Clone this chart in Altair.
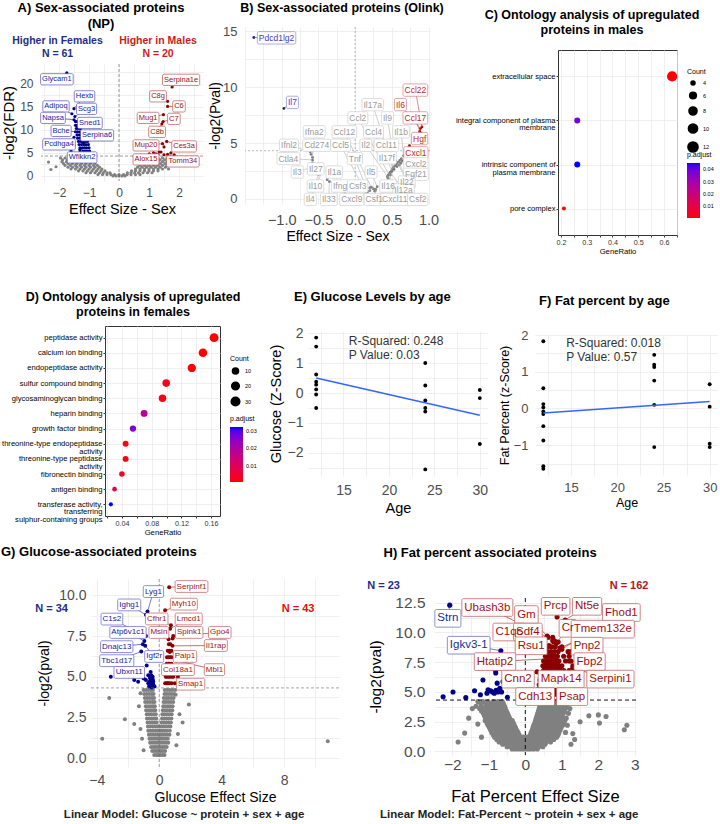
import altair as alt
import pandas as pd

FONT = "Liberation Sans"
BLUE, RED, NS = "#00008B", "#8B0000", "#808080"
NAVY = "#1F2D86"
GRID = "#ebebeb"
TXT = "#4d4d4d"
THR = 4.32  # -log2(0.05)

# ---------------- A) Sex-associated proteins (NP) ----------------
# non-significant proteins, read row by row: (-log2 FDR, [effect sizes])
a_ns_rows = [
    (3.9, [-1.95, -1.8, -1.65, -1.5, -1.35, -1.2, -1.05, 1.0, 1.15, 1.3, 1.45, 1.6, 1.75, 1.9]),
    (3.5, [-1.88, -1.72, -1.57, -1.42, -1.27, -1.12, -0.98, 0.92, 1.07, 1.22, 1.37, 1.52, 1.68, 1.85]),
    (3.1, [-1.9, -1.75, -1.6, -1.45, -1.3, -1.15, -1.0, -0.88, 0.85, 1.0, 1.15, 1.3, 1.45, 1.6, 1.75, 1.95]),
    (2.7, [-1.85, -1.7, -1.55, -1.4, -1.25, -1.1, -0.95, -0.8, 0.78, 0.93, 1.08, 1.23, 1.38, 1.53, 1.7]),
    (2.3, [-1.8, -1.62, -1.45, -1.3, -1.15, -1.0, -0.85, -0.72, 0.7, 0.85, 1.0, 1.15, 1.3, 1.45, 1.6, 1.8]),
    (1.9, [-1.7, -1.55, -1.4, -1.25, -1.1, -0.95, -0.8, -0.65, 0.62, 0.77, 0.92, 1.07, 1.22, 1.37, 1.55]),
    (1.5, [-1.6, -1.45, -1.3, -1.15, -1.0, -0.85, -0.7, -0.57, 0.55, 0.7, 0.85, 1.0, 1.15, 1.3, 1.45, 1.65]),
    (1.1, [-1.35, -1.2, -1.05, -0.9, -0.75, -0.6, -0.47, 0.42, 0.55, 0.7, 0.85, 1.0, 1.15, 1.3]),
    (0.7, [-1.1, -0.95, -0.8, -0.65, -0.52, -0.4, -0.3, 0.28, 0.4, 0.52, 0.65, 0.8, 0.95, 1.1]),
    (0.3, [-0.7, -0.55, -0.4, -0.27, -0.15, 0.0, 0.15, 0.27, 0.4, 0.55, 0.7]),
    (0.0, [-0.2, -0.1, 0.0, 0.1, 0.2]),
]
a_ns_extra = [(-2.35, 3.0), (-2.27, 1.4), (-2.1, 2.0), (2.15, 3.5), (2.05, 2.6)]
a_down_rows = [
    (11.8, [-1.45, -1.4]),
    (11.0, [-1.45, -1.33]),
    (10.3, [-1.42, -1.35, -1.28]),
    (9.6, [-1.38, -1.3, -1.22]),
    (8.9, [-1.4, -1.32, -1.25, -1.18]),
    (8.2, [-1.38, -1.3, -1.22, -1.14]),
    (7.5, [-1.35, -1.27, -1.2, -1.12, -1.05]),
    (6.8, [-1.33, -1.25, -1.17, -1.1, -1.02]),
    (6.1, [-1.3, -1.22, -1.15, -1.08, -1.0]),
    (5.4, [-1.3, -1.2, -1.12, -1.05, -0.98]),
    (4.7, [-1.55, -1.35, -1.25, -1.15, -1.08, -1.0, -0.95]),
]
a_down_extra = [(-1.25, 4.4), (-1.1, 4.5), (-1.3, 5.8), (-1.18, 7.2), (-1.4, 10.8), (-1.5, 8.4)]
a_up_extra = [(1.34, 5.2), (1.5, 6.3), (1.73, 5.0), (1.3, 4.6), (1.01, 4.8),
              (1.5, 4.6), (1.12, 4.4), (1.84, 4.6), (1.4, 5.2), (1.23, 4.8)]
# (protein, direction, effect, -log2FDR, label x, label y)
a_labels = [
    ("Glycam1", "down", -1.74, 22.4, -2.07, 20.98), ("Hexb", "down", -1.5, 14.6, -1.15, 17.28),
    ("Adipoq", "down", -1.57, 13.5, -2.1, 15.1), ("Scg3", "down", -1.47, 12.9, -1.08, 14.57),
    ("Napsa", "down", -1.5, 12.2, -2.2, 12.6), ("Sned1", "down", -1.38, 11.0, -0.97, 11.5),
    ("Bche", "down", -1.45, 9.6, -1.93, 9.78), ("Serpina6", "down", -1.2, 8.0, -0.73, 8.8),
    ("Pcdhga4", "down", -1.5, 6.6, -2.0, 6.85), ("Wfikkn2", "down", -1.6, 5.4, -1.23, 4.02),
    ("Serpina1e", "up", 1.77, 19.3, 2.07, 20.87), ("C8g", "up", 1.62, 16.2, 1.3, 17.28),
    ("C6", "up", 1.62, 15.1, 2.0, 15.1), ("Mug1", "up", 1.48, 13.3, 0.97, 12.6),
    ("C7", "up", 1.47, 11.8, 1.83, 12.39), ("C8b", "up", 1.43, 11.3, 1.27, 9.57),
    ("Mup20", "up", 1.45, 7.0, 0.9, 6.63), ("Ces3a", "up", 1.59, 7.5, 2.17, 6.41),
    ("Alox15", "up", 1.15, 5.0, 0.9, 3.59), ("Tomm34", "up", 1.62, 4.7, 2.13, 3.15),
]

# ---------------- B) Sex-associated proteins (Olink) ----------------
b_ns_extra = [(0.53, 2.65), (0.57, 2.9), (0.6, 3.05), (0.55, 3.4), (0.62, 3.2), (0.48, 2.15),
              (0.5, 2.45), (0.45, 1.85), (0.64, 3.4), (0.2, 1.0), (0.27, 0.7), (-0.55, 3.0)]
b_labels = [
    ("Pdcd1lg2", "down", -1.38, 14.46, -1.07, 14.43), ("Il7", "down", -0.97, 8.11, -0.854, 8.65),
    ("Ccl22", "up", 0.91, 6.45, 0.821, 9.75), ("Il6", "up", 0.89, 6.3, 0.617, 8.45),
    ("Ccl17", "up", 0.88, 6.05, 0.821, 7.26), ("Hgf", "up", 0.9, 5.9, 0.879, 5.41),
    ("Cxcl1", "up", 0.74, 4.77, 0.828, 4.13),
    ("Il17a", "ns", 0.52, 2.8, 0.239, 8.45), ("Ccl2", "ns", 0.46, 2.2, 0.037, 7.26),
    ("Il9", "ns", 0.54, 2.95, 0.44, 7.26), ("Ifna2", "ns", -0.58, 3.73, -0.557, 6.01),
    ("Ccl12", "ns", 0.22, 1.05, -0.147, 6.01), ("Ccl4", "ns", 0.5, 2.55, 0.251, 6.01),
    ("Il1b", "ns", 0.66, 3.87, 0.626, 6.01), ("Ifnl2", "ns", -0.61, 4.23, -0.9, 4.81),
    ("Cd274", "ns", -0.6, 4.0, -0.523, 4.81), ("Ccl5", "ns", 0.15, 0.55, -0.198, 4.81),
    ("Il2", "ns", 0.44, 2.0, 0.146, 4.81), ("Ccl11", "ns", 0.51, 2.7, 0.426, 4.81),
    ("Ctla4", "ns", -0.58, 3.5, -0.909, 3.62), ("Tnf", "ns", 0.17, 0.65, -0.004, 3.62),
    ("Il17f", "ns", 0.56, 3.1, 0.432, 3.69), ("Cxcl2", "ns", 0.63, 3.6, 0.828, 3.15),
    ("Il3", "ns", -0.57, 2.9, -0.789, 2.41), ("Il27", "ns", -0.58, 3.22, -0.536, 2.7),
    ("Il1a", "ns", -0.38, 1.73, -0.284, 2.41), ("Il5", "ns", 0.3, 1.1, 0.217, 2.41),
    ("Fgf21", "ns", 0.61, 3.45, 0.828, 2.21), ("Il22", "ns", 0.58, 3.25, 0.705, 1.52),
    ("Il10", "ns", -0.45, 2.39, -0.54, 1.16), ("Ifng", "ns", -0.14, 0.45, -0.205, 1.16),
    ("Csf3", "ns", 0.25, 0.9, 0.034, 1.16), ("Il16", "ns", 0.45, 2.1, 0.449, 1.16),
    ("Il12a", "ns", 0.48, 2.4, 0.66, 0.8), ("Il4", "ns", -0.5, 2.2, -0.611, -0.04),
    ("Il33", "ns", -0.35, 1.55, -0.359, -0.04), ("Cxcl9", "ns", 0.2, 0.75, -0.045, -0.04),
    ("Csf1", "ns", 0.28, 0.85, 0.262, -0.04), ("Cxcl11", "ns", 0.47, 2.3, 0.539, -0.04),
    ("Csf2", "ns", 0.59, 3.3, 0.853, -0.04),
]

# ---------------- C) GO terms up in males ----------------
c_terms = ["extracellular space", "integral component of plasma|membrane",
           "intrinsic component of|plasma membrane", "pore complex"]
c_ratio = [0.632, 0.263, 0.263, 0.211]
c_count = [12, 5, 5, 4]
c_padj = [0.0005, 0.038, 0.045, 0.0015]

# ---------------- D) GO terms up in females ----------------
d_terms = ["peptidase activity", "calcium ion binding", "endopeptidase activity",
           "sulfur compound binding", "glycosaminoglycan binding", "heparin binding",
           "growth factor binding", "threonine-type endopeptidase|activity",
           "threonine-type peptidase|activity", "fibronectin binding", "antigen binding",
           "transferase activity,|transferring|sulphur-containing groups"]
d_ratio = [0.164, 0.149, 0.134, 0.0995, 0.0945, 0.0697, 0.0547, 0.0448, 0.0448, 0.0398, 0.0299, 0.0249]
d_count = [33, 30, 27, 20, 19, 14, 11, 9, 9, 8, 6, 5]
d_padj = [0.0012, 0.0012, 0.0015, 0.003, 0.0025, 0.018, 0.026, 0.002, 0.002, 0.0037, 0.009, 0.032]

# ---------------- E / F) phenotypes by age ----------------
e_age = [12, 12, 12, 12, 12, 12, 12, 12, 24, 24, 24, 24, 24, 24, 30, 30, 30]
e_glucose = [1.85, 1.55, 0.62, 0.38, 0.28, 0.12, -0.05, -0.5,
             1.0, 0.25, -0.25, -0.5, -0.62, -2.55, 0.1, -0.17, -1.7]
f_age = [12, 12, 12, 12, 12, 12, 12, 12, 12, 12, 24, 24, 24, 24, 24, 24, 30, 30, 30, 30]
f_fat = [1.83, 0.55, 0.12, 0.03, -0.08, -0.15, -0.48, -0.87, -1.57, -1.64,
         1.46, 1.19, 1.13, 0.76, 0.1, -1.05, 0.66, 0.05, -0.96, -1.05]

# ---------------- G) Glucose-associated proteins ----------------
g_ns_rows = [
    (4.2, [-1.0, -0.84, -0.68, -0.52, -0.4, 0.36, 0.52, 0.68, 0.84, 1.02]),
    (3.95, [-0.96, -0.8, -0.64, -0.48, -0.36, 0.34, 0.48, 0.64, 0.8, 0.96]),
    (3.7, [-0.92, -0.76, -0.6, -0.45, -0.33, 0.3, 0.46, 0.6, 0.76, 0.92]),
    (3.45, [-0.9, -0.74, -0.58, -0.42, -0.3, 0.28, 0.42, 0.58, 0.74, 0.9]),
    (3.2, [-0.86, -0.7, -0.55, -0.4, -0.28, 0.26, 0.4, 0.55, 0.7, 0.86]),
    (2.95, [-0.84, -0.68, -0.52, -0.37, -0.25, 0.23, 0.37, 0.52, 0.68, 0.84]),
    (2.7, [-0.8, -0.65, -0.5, -0.35, -0.22, 0.2, 0.34, 0.5, 0.65, 0.8]),
    (2.45, [-0.78, -0.62, -0.47, -0.32, -0.19, 0.18, 0.32, 0.47, 0.62, 0.78]),
    (2.2, [-0.75, -0.6, -0.45, -0.3, -0.16, 0.15, 0.3, 0.45, 0.6, 0.75]),
    (1.95, [-0.72, -0.57, -0.42, -0.27, -0.13, 0.0, 0.13, 0.27, 0.42, 0.57, 0.72]),
    (1.7, [-0.7, -0.55, -0.4, -0.25, -0.1, 0.05, 0.2, 0.35, 0.5, 0.68]),
    (1.45, [-0.66, -0.51, -0.36, -0.21, -0.07, 0.07, 0.21, 0.36, 0.51, 0.66]),
    (1.2, [-0.62, -0.47, -0.32, -0.17, -0.03, 0.11, 0.25, 0.4, 0.55]),
    (0.95, [-0.58, -0.43, -0.28, -0.14, 0.0, 0.14, 0.28, 0.43, 0.58]),
    (0.7, [-0.52, -0.37, -0.23, -0.09, 0.05, 0.19, 0.33, 0.48]),
    (0.45, [-0.45, -0.3, -0.16, -0.03, 0.1, 0.24, 0.38]),
    (0.2, [-0.32, -0.18, -0.05, 0.08, 0.22, 0.34]),
]
g_ns_extra = [(-3.2, 3.7), (-2.2, 2.4), (-1.6, 2.1), (-3.65, 1.2), (-1.2, 1.8), (1.9, 3.3),
              (1.3, 2.7), (1.2, 1.5), (10.8, 1.05), (-1.0, 0.5), (1.1, 0.8), (-1.3, 3.2),
              (1.5, 2.2), (-1.1, 1.2), (1.05, 3.9), (-1.2, 4.0)]
g_down_extra = [(-0.8, 5.7), (-3.1, 5.0), (-1.35, 4.7), (-0.85, 4.8), (-0.6, 5.0), (-0.5, 5.1),
                (-0.45, 4.9), (-0.55, 4.7), (-0.4, 4.6), (-0.6, 4.5), (-0.7, 4.6), (-0.35, 4.45),
                (-0.45, 4.4), (-0.5, 4.55), (-0.65, 4.4), (-0.4, 4.8), (-0.55, 5.3), (-0.7, 5.1),
                (-0.48, 4.35), (-0.38, 4.7), (-0.58, 4.9), (-0.42, 5.0), (-1.0, 4.9), (-0.3, 4.4),
                (-0.62, 4.7), (-0.52, 4.6)]
g_up_rows = [
    (7.0, [0.62, 0.72]),
    (6.6, [0.55, 0.65, 0.78]),
    (6.2, [0.5, 0.6, 0.7, 0.8]),
    (5.8, [0.48, 0.58, 0.68, 0.78]),
    (5.4, [0.45, 0.55, 0.65, 0.75, 0.9]),
    (5.0, [0.42, 0.52, 0.62, 0.72, 0.85, 1.2]),
    (4.6, [0.38, 0.48, 0.58, 0.68, 0.8, 1.0, 0.53]),
]
g_labels = [
    ("Lyg1", "down", -0.75, 9.0, -0.37, 10.23), ("Ighg1", "down", -0.85, 8.8, -1.92, 9.41),
    ("C1s2", "down", -0.85, 7.5, -3.03, 8.54), ("Atp6v1c1", "down", -0.95, 7.2, -2.0, 7.72),
    ("Dnajc13", "down", -1.05, 7.0, -2.72, 6.85), ("Igf2r", "down", -0.9, 6.9, -0.32, 6.25),
    ("Tbc1d17", "down", -1.15, 6.55, -2.72, 5.99), ("Ubxn11", "down", -1.6, 4.8, -1.92, 5.27),
    ("Serpinf1", "up", 0.64, 10.5, 2.07, 10.54), ("Myh10", "up", 0.38, 9.08, 1.58, 9.46),
    ("Cfhr1", "up", 0.75, 8.16, -0.16, 8.55), ("Lmcd1", "up", 0.7, 7.95, 1.89, 8.55),
    ("Msln", "up", 0.6, 7.3, -0.02, 7.72), ("Spink1", "up", 0.86, 7.35, 1.92, 7.72),
    ("Gpo4", "up", 0.9, 7.5, 3.88, 7.72), ("Il1rap", "up", 0.85, 6.9, 3.63, 6.92),
    ("Paip1", "up", 0.68, 6.53, 1.65, 6.25), ("Mbl1", "up", 1.1, 6.0, 3.54, 5.44),
    ("Col18a1", "up", 0.6, 5.8, 1.2, 5.44), ("Smap1", "up", 0.9, 5.0, 2.01, 4.55),
]

# ---------------- H) Fat percent associated proteins ----------------
h_ns_rows = [
    (4.2, [-1.3, -1.16, -1.02, -0.88, -0.75, -0.63, 0.44, 0.56, 0.68, 0.8, 0.92, 1.05]),
    (4.0, [-1.22, -1.08, -0.95, -0.82, -0.7, -0.6, 0.42, 0.54, 0.66, 0.78, 0.9, 1.02, 1.15]),
    (3.8, [-1.35, -1.2, -1.05, -0.92, -0.79, -0.67, -0.57, 0.4, 0.52, 0.64, 0.76, 0.88, 1.0, 1.12]),
    (3.6, [-1.25, -1.12, -0.99, -0.86, -0.74, -0.63, -0.55, 0.38, 0.5, 0.62, 0.74, 0.86, 0.98, 1.1, 1.22]),
    (3.4, [-1.2, -1.07, -0.94, -0.82, -0.7, -0.6, -0.52, 0.36, 0.47, 0.59, 0.71, 0.83, 0.95, 1.07]),
    (3.2, [-1.15, -1.02, -0.9, -0.78, -0.67, -0.57, -0.49, 0.34, 0.45, 0.56, 0.68, 0.8, 0.92, 1.04, 1.18]),
    (3.0, [-1.12, -0.99, -0.87, -0.75, -0.64, -0.54, -0.46, 0.32, 0.43, 0.54, 0.65, 0.77, 0.89, 1.01]),
    (2.8, [-1.08, -0.96, -0.84, -0.72, -0.61, -0.51, -0.43, 0.3, 0.41, 0.52, 0.63, 0.74, 0.86, 0.98, 1.12]),
    (2.6, [-1.1, -0.98, -0.86, -0.74, -0.63, -0.52, -0.42, -0.36, 0.28, 0.38, 0.49, 0.6, 0.71, 0.83, 0.95, 1.08]),
    (2.4, [-1.05, -0.93, -0.81, -0.7, -0.59, -0.49, -0.39, -0.33, 0.26, 0.36, 0.46, 0.57, 0.68, 0.8, 0.92, 1.05]),
    (2.2, [-1.02, -0.9, -0.78, -0.67, -0.56, -0.46, -0.37, -0.3, 0.23, 0.33, 0.44, 0.55, 0.66, 0.78, 0.9, 1.02, 1.15]),
    (2.0, [-0.98, -0.86, -0.75, -0.64, -0.53, -0.43, -0.34, -0.27, 0.21, 0.31, 0.41, 0.52, 0.63, 0.74, 0.86, 0.98]),
    (1.8, [-0.95, -0.83, -0.72, -0.61, -0.5, -0.4, -0.31, -0.24, 0.19, 0.28, 0.38, 0.49, 0.6, 0.71, 0.83, 0.95]),
    (1.6, [-0.92, -0.8, -0.69, -0.58, -0.47, -0.37, -0.28, -0.2, 0.16, 0.25, 0.35, 0.46, 0.57, 0.68, 0.8, 0.92, 1.1]),
    (1.4, [-0.88, -0.76, -0.65, -0.54, -0.44, -0.34, -0.25, -0.17, 0.14, 0.23, 0.32, 0.43, 0.54, 0.65, 0.77, 0.9]),
    (1.2, [-0.84, -0.72, -0.61, -0.5, -0.4, -0.31, -0.22, -0.14, -0.06, 0.05, 0.12, 0.2, 0.29, 0.4, 0.5, 0.62, 0.74, 0.86]),
    (1.0, [-0.78, -0.66, -0.55, -0.45, -0.36, -0.27, -0.19, -0.11, -0.03, 0.05, 0.13, 0.22, 0.32, 0.42, 0.53, 0.65, 0.78]),
    (0.8, [-0.72, -0.6, -0.5, -0.4, -0.31, -0.23, -0.15, -0.07, 0.01, 0.09, 0.17, 0.26, 0.36, 0.46, 0.57, 0.69]),
    (0.6, [-0.62, -0.51, -0.41, -0.32, -0.24, -0.16, -0.08, 0.0, 0.08, 0.16, 0.24, 0.33, 0.43, 0.54]),
    (0.4, [-0.5, -0.4, -0.31, -0.22, -0.14, -0.06, 0.02, 0.1, 0.18, 0.27, 0.37, 0.48]),
    (0.2, [-0.36, -0.27, -0.18, -0.1, -0.02, 0.06, 0.14, 0.23, 0.33]),
]
h_ns_extra = [(-1.84, 0.79), (-1.66, 1.54), (-1.3, 2.3), (-1.45, 3.6), (-1.55, 2.8), (1.74, 3.0),
              (2.0, 3.07), (2.21, 2.94), (2.03, 2.38), (2.71, 1.82), (2.78, 2.2), (1.3, 1.5),
              (1.35, 1.0), (1.5, 2.5), (-1.2, 1.2), (1.25, 0.6)]
h_down_extra = [(-0.81, 6.8), (-0.81, 6.6), (-1.16, 6.0), (-2.25, 4.6), (-1.98, 5.0), (-1.63, 4.52),
                (-1.39, 5.1), (-1.23, 4.77), (-1.02, 5.18), (-0.95, 5.1), (-0.77, 5.74), (-0.7, 5.2),
                (-0.75, 5.0), (-0.61, 5.87), (-0.49, 4.56), (-0.85, 4.9), (-0.9, 5.0), (-0.7, 5.3),
                (-0.8, 5.15), (-0.65, 5.0), (-1.05, 4.9)]
h_up_rows = [
    (9.6, [0.75, 0.62]),
    (9.2, [0.78, 0.9]),
    (8.8, [0.62, 0.72, 0.82, 1.0]),
    (8.4, [0.6, 0.7, 0.8, 0.9, 1.25]),
    (8.0, [0.55, 0.65, 0.72, 0.8, 0.88, 1.05, 1.2]),
    (7.8, [0.6, 0.68, 0.76, 0.84]),
    (7.6, [0.5, 0.6, 0.68, 0.76, 0.84, 0.92, 1.1, 1.25]),
    (7.4, [0.56, 0.64, 0.72, 0.8, 0.88]),
    (7.2, [0.48, 0.58, 0.66, 0.74, 0.82, 0.9, 1.0, 1.3]),
    (7.0, [0.54, 0.62, 0.7, 0.78, 0.86, 0.94]),
    (6.8, [0.5, 0.58, 0.66, 0.74, 0.82, 0.9, 1.05, 1.2, 1.38]),
    (6.6, [0.52, 0.6, 0.68, 0.76, 0.84, 0.92]),
    (6.4, [0.45, 0.55, 0.63, 0.71, 0.79, 0.87, 0.95, 1.15]),
    (6.2, [0.5, 0.58, 0.66, 0.74, 0.82, 0.9]),
    (6.0, [0.4, 0.5, 0.58, 0.66, 0.74, 0.82, 0.9, 1.0, 1.2]),
    (5.8, [0.44, 0.52, 0.6, 0.68, 0.76, 0.84, 0.92]),
    (5.6, [0.38, 0.46, 0.54, 0.62, 0.7, 0.78, 0.86, 0.95, 1.1, 1.3]),
    (5.4, [0.42, 0.5, 0.58, 0.66, 0.74, 0.82]),
    (5.2, [0.35, 0.43, 0.51, 0.59, 0.67, 0.75, 0.83, 0.92, 1.02, 1.15]),
    (5.0, [0.4, 0.48, 0.56, 0.64, 0.72, 0.8]),
    (4.8, [0.33, 0.4, 0.48, 0.56, 0.64, 0.72, 0.8, 0.9, 1.0, 1.1]),
    (4.45, [0.3, 0.38, 0.46, 0.54]),
]
h_labels = [
    ("Strn", "down", -2.07, 12.3, -2.12, 11.19), ("Igkv3-1", "down", -0.67, 8.47, -1.55, 8.93),
    ("Ubash3b", "up", 0.8, 9.3, -1.04, 12.1), ("Gm", "up", 0.6, 9.7, 0.03, 11.51),
    ("Prcp", "up", 0.87, 11.3, 0.83, 12.2), ("Nt5e", "up", 1.09, 11.05, 1.69, 12.2),
    ("Fhod1", "up", 1.0, 8.6, 2.63, 11.68), ("C1qc", "up", 0.65, 8.9, -0.45, 10.04),
    ("Sdf4", "up", 0.75, 9.3, 0.07, 10.04), ("Cr", "up", 0.85, 9.1, 1.16, 10.35),
    ("Tmem132e", "up", 0.95, 8.7, 2.12, 10.28), ("Rsu1", "up", 0.7, 8.2, 0.16, 8.88),
    ("Pnp2", "up", 1.17, 8.39, 1.69, 8.85), ("Htatip2", "up", 0.7, 7.8, -0.83, 7.55),
    ("Fbp2", "up", 1.2, 7.6, 1.76, 7.55), ("Cnn2", "up", 0.32, 6.7, -0.2, 6.08),
    ("Mapk14", "up", 0.75, 7.2, 0.98, 6.08), ("Serpini1", "up", 1.3, 7.0, 2.33, 6.08),
    ("Cdh13", "up", 0.55, 5.3, 0.27, 4.61), ("Psap", "up", 1.0, 5.3, 1.28, 4.61),
]

# ---------------- helpers ----------------
CW = {}
for chars, wd in [("abdeghnopqu0123456789", 0.556), ("cksvxyzJ", 0.5), ("ijl", 0.222),
                  ("ft .,:I", 0.278), ("r-()", 0.333), ("mM", 0.833), ("w", 0.722),
                  ("ABEKPSVXY", 0.667), ("CDHNRU", 0.722), ("GOQ", 0.778), ("FTZ", 0.611),
                  ("L", 0.556), ("W", 0.944)]:
    for ch in chars:
        CW[ch] = wd


def text_px(s, size):
    return size * sum(CW.get(c, 0.6) for c in s)


def from_rows(rows, grp):
    return [(x, y, grp) for y, xs in rows for x in xs]


def tagged(pairs, grp):
    return [(x, y, grp) for x, y in pairs]


ORDER = {"ns": 0, "down": 1, "up": 2}


def volcano(points, labels, xdom, ydom, width, height, xaxis, yaxis, xtitle, ytitle,
            pt_size, lab_size, pad, lab_cols, thr_color, thr_dash, thr_width, notes, title,
            pt_cols=(NS, BLUE, RED)):
    pxx = width / (xdom[1] - xdom[0])
    pxy = height / (ydom[1] - ydom[0])
    pts = points + [(px, py, g) for (_, g, px, py, _, _) in labels]
    pts.sort(key=lambda p: ORDER[p[2]])
    pdf = pd.DataFrame(pts, columns=["x", "y", "grp"])
    xs = alt.Scale(domain=xdom, nice=False, zero=False)
    ys = alt.Scale(domain=ydom, nice=False, zero=False)
    X = alt.X("x:Q", scale=xs, axis=xaxis, title=xtitle)
    Y = alt.Y("y:Q", scale=ys, axis=yaxis, title=ytitle)

    layers = [
        alt.Chart(pdf).mark_circle(size=pt_size, opacity=1).encode(
            x=X, y=Y,
            color=alt.Color("grp:N", scale=alt.Scale(domain=["ns", "down", "up"], range=list(pt_cols)),
                            legend=None)),
        alt.Chart(pd.DataFrame({"x": [0.0]})).mark_rule(
            color=thr_color, strokeDash=thr_dash, strokeWidth=thr_width).encode(x=X),
        alt.Chart(pd.DataFrame({"y": [THR]})).mark_rule(
            color=thr_color, strokeDash=thr_dash, strokeWidth=thr_width).encode(y=Y),
    ]

    lab = pd.DataFrame(labels, columns=["text", "grp", "px", "py", "lx", "ly"])
    lab["tcol"] = lab.grp.map(lab_cols["text"])
    lab["bcol"] = lab.grp.map(lab_cols["box"])
    lab["scol"] = lab.grp.map(lab_cols["seg"])
    bw = lab.text.map(lambda s: text_px(s, lab_size)) + 2 * pad
    bh = lab_size * 1.1 + 2 * pad
    seg = pd.DataFrame({"x": lab.px, "y": lab.py, "x2": lab.lx, "y2": lab.ly, "scol": lab.scol})
    box = pd.DataFrame({"x": lab.lx - bw / 2 / pxx, "x2": lab.lx + bw / 2 / pxx,
                        "y": lab.ly - bh / 2 / pxy, "y2": lab.ly + bh / 2 / pxy, "bcol": lab.bcol})
    txt = pd.DataFrame({"x": lab.lx, "y": lab.ly, "text": lab.text, "tcol": lab.tcol})
    layers += [
        alt.Chart(seg).mark_rule(strokeWidth=0.6).encode(
            x=X, y=Y, x2="x2:Q", y2="y2:Q", color=alt.Color("scol:N", scale=None)),
        alt.Chart(box).mark_rect(fill="white", strokeWidth=0.7, cornerRadius=1.5).encode(
            x=X, y=Y, x2="x2:Q", y2="y2:Q", stroke=alt.Stroke("bcol:N", scale=None)),
        alt.Chart(txt).mark_text(fontSize=lab_size, font=FONT, baseline="middle").encode(
            x=X, y=Y, text="text:N", color=alt.Color("tcol:N", scale=None)),
    ]
    for (t, nx, ny, col, fs, fw) in notes:
        layers.append(
            alt.Chart(pd.DataFrame({"x": [nx], "y": [ny], "t": [t]})).mark_text(
                fontSize=fs, fontWeight=fw, font=FONT, color=col, baseline="middle"
            ).encode(x=X, y=Y, text="t:N"))
    return alt.layer(*layers).properties(width=width, height=height, title=title)


def vaxis(values, every, fmt, lsize, tsize, lpad, tpad, lo=-1e9):
    return alt.Axis(values=values, format=fmt, labelOverlap=False,
                    labelExpr=(f"datum.value > {lo} && abs(datum.value / {every} - "
                               f"round(datum.value / {every})) < 1e-6 ? datum.label : ''"),
                    labelFontSize=lsize, titleFontSize=tsize, labelPadding=lpad, titlePadding=tpad)


def steps(a, b, s):
    out, v = [], a
    while v <= b + 1e-9:
        out.append(round(v, 6))
        v += s
    return out


def indep(c):
    return c.resolve_scale(color="independent", size="independent").resolve_legend(
        color="independent", size="independent")


def spacer(w, h):
    return alt.Chart(pd.DataFrame({"v": [0]})).mark_point(size=0, opacity=0).properties(width=w, height=h)


def topped(panel, h):
    return indep(alt.vconcat(spacer(1, h), panel, spacing=0))


# ---------------- A ----------------
a_cols = {"text": {"down": "#1a1aa0", "up": "#a01010"},
          "box": {"down": "#5555bb", "up": "#bb5555"},
          "seg": {"down": "#1a1aa0", "up": "#a01010"}}
panel_a = volcano(
    from_rows(a_ns_rows, "ns") + tagged(a_ns_extra, "ns") + from_rows(a_down_rows, "down")
    + tagged(a_down_extra, "down") + tagged(a_up_extra, "up"),
    a_labels, [-2.6, 2.8], [-1.1, 24.3], 162, 117,
    vaxis(steps(-2.5, 2.5, 0.5), 1, ".0f", 12, 14.5, 6, 4),
    vaxis(steps(0, 22.5, 2.5), 5, ".0f", 12, 15, 8, 3),
    "Effect Size - Sex", "-log2(FDR)", 10, 7.5, 1.5, a_cols, "#555555", [3, 2], 0.6,
    [("Higher in Females", -2.05, 29.3, NAVY, 10.5, "bold"), ("N = 61", -2.05, 26.5, NAVY, 10.5, "bold"),
     ("Higher in Males", 1.3, 29.3, "#CC1A1A", 10.5, "bold"), ("N = 20", 1.3, 26.5, "#CC1A1A", 10.5, "bold")],
    alt.TitleParams(["A) Sex-associated proteins", "(NP)"], fontSize=13, lineHeight=16,
                    anchor="middle", frame="group", dx=-21, offset=5),
)

# ---------------- B ----------------
b_cols = {"text": {"ns": "#9a9a9a", "down": "#4040c0", "up": "#c02828"},
          "box": {"ns": "#cfcfcf", "down": "#8a8ad6", "up": "#d68080"},
          "seg": {"ns": "#b0b0b0", "down": "#5050c0", "up": "#c04040"}}
panel_b = volcano(
    tagged(b_ns_extra, "ns"), b_labels, [-1.5, 1.02], [-0.45, 15.4], 185, 177,
    vaxis(steps(-1.5, 1.0, 0.25), 0.5, ".1f", 14.5, 14, 9, 3, lo=-1.4),
    vaxis(steps(0, 15, 2.5), 5, ".0f", 13, 14, 8, 0),
    "Effect Size - Sex", "-log2(Pval)", 8, 8.5, 1.5, b_cols, "#888888", [2, 2], 0.6, [],
    alt.TitleParams("B) Sex-associated proteins (Olink)", fontSize=12.5, anchor="middle",
                    frame="group", dx=4.5, offset=11),
    pt_cols=("#7a7a7a", "#1a1aa0", "#b00000"),
)


# ---------------- C / D (GO dot plots) ----------------
def go_panel(terms, ratio, count, padj, xdom, xgrid, xlab_every, fmt, width, height, pad,
             size_dom, size_rng, size_vals, cdom, cvals, legx, legy1, legy2, title):
    df = pd.DataFrame({"term": terms, "ratio": ratio, "count": count, "padj": padj})
    return alt.Chart(df).mark_circle(opacity=1).encode(
        x=alt.X("ratio:Q", scale=alt.Scale(domain=xdom, nice=False, zero=False),
                axis=alt.Axis(values=xgrid, format=fmt, labelOverlap=False,
                              labelExpr=f"abs(datum.value / {xlab_every} - round(datum.value / {xlab_every})) < 1e-6 ? datum.label : ''",
                              labelFontSize=7.2, labelColor="#333333", titleFontSize=7.7, ticks=True,
                              tickSize=2, tickColor="#333333", labelPadding=1, titlePadding=2),
                title="GeneRatio"),
        y=alt.Y("term:N", sort=terms, scale=alt.Scale(type="point", padding=pad),
                axis=alt.Axis(labelExpr="split(datum.label, '|')", labelFontSize=7.6, labelColor="black",
                              labelLineHeight=7.5, ticks=True, tickSize=2, tickColor="#333333",
                              labelPadding=1, labelLimit=300),
                title=None),
        size=alt.Size("count:Q", scale=alt.Scale(domain=size_dom, range=size_rng),
                      legend=alt.Legend(title="Count", orient="none", legendX=legx, legendY=legy1,
                                        values=size_vals, titleFontSize=7, labelFontSize=5.5,
                                        titleFontWeight="normal", symbolFillColor="black",
                                        symbolStrokeColor="black", symbolOpacity=1, rowPadding=1,
                                        labelOffset=4)),
        color=alt.Color("padj:Q", scale=alt.Scale(domain=cdom, range=["#FF0000", "#0000FF"], interpolate="lab"),
                        legend=alt.Legend(title="p.adjust", orient="none", legendX=legx, legendY=legy2,
                                          values=cvals, format=".2f", gradientLength=55,
                                          gradientThickness=13, titleFontSize=7, labelFontSize=5.5,
                                          titleFontWeight="normal", direction="vertical", labelOffset=3)),
    ).properties(width=width, height=height, title=title,
                 view=alt.ViewBackground(stroke="#333333", strokeWidth=1))


panel_c = go_panel(
    c_terms, c_ratio, c_count, c_padj, [0.188, 0.651], steps(0.2, 0.65, 0.05), 0.1, ".1f", 119, 185, 0.6,
    [4, 5, 6, 8, 10, 12], [16, 36, 45, 66, 85, 104], [4, 6, 8, 10, 12],
    [0.0005, 0.045], [0.01, 0.02, 0.03, 0.04], 129, 18, 101,
    alt.TitleParams(["C) Ontology analysis of upregulated", "proteins in males"], fontSize=12.5,
                    lineHeight=15, anchor="middle", frame="group", dx=-25.5, offset=14),
)
panel_d = go_panel(
    d_terms, d_ratio, d_count, d_padj, [0.017, 0.172], steps(0.02, 0.17, 0.02), 0.04, ".2f", 115, 190, 0.77,
    [5, 9, 14, 20, 27, 33], [17, 35, 47, 58, 69, 79], [10, 20, 30],
    [0.0012, 0.032], [0.01, 0.02, 0.03], 125, 29, 89,
    alt.TitleParams(["D) Ontology analysis of upregulated", "proteins in females"], fontSize=12.5,
                    lineHeight=15, anchor="middle", frame="group", dx=-29.5, offset=7.5),
)


# ---------------- E / F (phenotype vs age) ----------------
def age_panel(ages, vals, ydom, width, height, yvals, ytitle, lsize, tsize, ypads, xpads,
              stats, sx, sy, title):
    df = pd.DataFrame({"x": ages, "y": vals})
    X = alt.X("x:Q", scale=alt.Scale(domain=[11.1, 30.9], nice=False, zero=False),
              axis=vaxis(steps(12.5, 30, 2.5), 5, ".0f", lsize, tsize, *xpads), title="Age")
    Y = alt.Y("y:Q", scale=alt.Scale(domain=ydom, nice=False, zero=False),
              axis=vaxis(yvals, 1, ".0f", lsize, tsize, *ypads), title=ytitle)
    pts = alt.Chart(df).mark_circle(size=15, color="black", opacity=1).encode(x=X, y=Y)
    fit = alt.Chart(df).transform_regression("x", "y").mark_line(
        color="#3366FF", strokeWidth=1.6).encode(x=X, y=Y)
    st = alt.Chart(pd.DataFrame({"x": [sx, sx], "y": sy, "t": stats})).mark_text(
        align="left", baseline="middle", fontSize=12, font=FONT, color="#333333").encode(x=X, y=Y, text="t:N")
    return alt.layer(pts, fit, st).properties(width=width, height=height, title=title)


panel_e = age_panel(e_age, e_glucose, [-2.77, 2.07], 180, 145, steps(-2.5, 2.0, 0.5),
                    "Glucose (Z-Score)", 14, 14.5, (5, 4), (7, 4),
                    ["R-Squared: 0.248", "P Value: 0.03"], 15.58, [1.73, 1.27],
                    alt.TitleParams("E) Glucose Levels by age", fontSize=13, anchor="start",
                                    frame="group", dx=-14, offset=22.5))
panel_f = age_panel(f_age, f_fat, [-1.81, 2.0], 183, 140, steps(-1.5, 2.0, 0.5),
                    "Fat Percent (z-Score)", 13, 12.5, (7, 2), (6, 2),
                    ["R-Squared: 0.018", "P Value: 0.57"], 14.47, [1.77, 1.39],
                    alt.TitleParams("F) Fat percent by age", fontSize=13, anchor="start",
                                    frame="group", dx=4, offset=21.5))

# ---------------- G ----------------
g_cols = {"text": {"down": "#2020a0", "up": "#a01515"},
          "box": {"down": "#6060c0", "up": "#c05a5a"},
          "seg": {"down": "#2020a0", "up": "#a01515"}}
panel_g = volcano(
    from_rows(g_ns_rows, "ns") + tagged(g_ns_extra, "ns") + tagged(g_down_extra, "down")
    + from_rows(g_up_rows, "up"),
    g_labels, [-4.37, 11.52], [-0.53, 11.0], 248, 188,
    vaxis(steps(-4, 10, 2), 4, ".0f", 14, 14, 6, 3),
    vaxis(steps(0, 10, 1.25), 2.5, ".1f", 14, 14, 5, 7),
    "Glucose Effect Size", "-log2(pval)", 16, 8, 1.5, g_cols, "#666666", [3, 2], 0.6,
    [("N = 34", -6.9, 9.14, NAVY, 11, "bold"), ("N = 43", 8.9, 9.14, "#E01010", 11, "bold"),
     ("Linear Model: Glucose ~ protein + sex + age", 1.6, -3.47, "#222222", 11.5, "bold")],
    alt.TitleParams("G) Glucose-associated proteins", fontSize=13, anchor="start", frame="group",
                    dx=-90, offset=19.5),
)

# ---------------- H ----------------
h_cols = {"text": {"down": "#1a2a9a", "up": "#a01010"},
          "box": {"down": "#5a64bb", "up": "#bb5050"},
          "seg": {"down": "#1a2a9a", "up": "#a01010"}}
panel_h = volcano(
    from_rows(h_ns_rows, "ns") + tagged(h_ns_extra, "ns") + tagged(h_down_extra, "down")
    + from_rows(h_up_rows, "up"),
    h_labels, [-2.5, 3.03], [-0.3, 12.9], 202, 157,
    vaxis(steps(-2.0, 3.0, 0.5), 1, ".0f", 15.5, 16.5, 2, 16),
    vaxis(steps(0, 12.5, 1.25), 2.5, ".1f", 15.5, 15.5, 9, 11),
    "Fat Percent Effect Size", "-log2(pval)", 26, 11.5, 2.5, h_cols, "#111111", [4, 3], 1.0,
    [("N = 23", -3.88, 13.9, NAVY, 11, "bold"), ("N = 162", 2.84, 13.9, "#B2161B", 11, "bold"),
     ("Linear Model: Fat-Percent ~ protein + sex + age", -0.44, -5.31, "#222222", 11.5, "bold")],
    alt.TitleParams("H) Fat percent associated proteins", fontSize=13, anchor="start", frame="group",
                    dx=-50.5, offset=20.5),
)

# ---------------- layout ----------------
row1 = indep(alt.hconcat(
    spacer(1, 1),
    indep(alt.hconcat(topped(panel_a, 1),
                      indep(alt.hconcat(topped(panel_b, 1), topped(panel_c, 8), spacing=10)),
                      spacing=4)),
    spacing=0))
row2 = indep(alt.hconcat(
    spacer(1, 1),
    indep(alt.hconcat(topped(panel_d, 1), topped(panel_e, 1), topped(panel_f, 5), spacing=10)),
    spacing=0))
row3 = indep(alt.hconcat(
    spacer(1, 1),
    indep(alt.hconcat(topped(panel_g, 1), topped(panel_h, 1), spacing=27)),
    spacing=0))

chart = indep(alt.vconcat(row1, indep(alt.vconcat(row2, row3, spacing=8)), spacing=33)).properties(
    padding={"left": 0, "top": 0, "right": 0, "bottom": 0}, background="white"
).configure_view(stroke=None).configure_axis(
    labelFont=FONT, titleFont=FONT, domain=False, ticks=False, grid=True, gridColor=GRID,
    gridWidth=0.8, labelColor=TXT, titleColor="black", titleFontWeight="normal"
).configure_legend(labelFont=FONT, titleFont=FONT).configure_title(
    font=FONT, fontWeight="bold", color="black")

chart.save("out.html", embed_options={"renderer": "svg", "actions": False})
